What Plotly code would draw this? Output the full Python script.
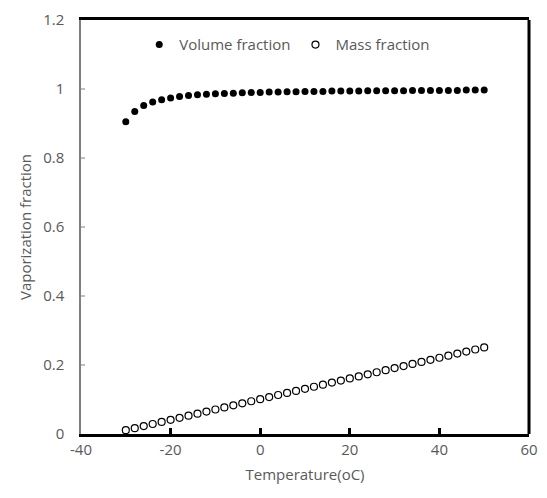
import plotly.graph_objects as go

temperature = [-30, -28, -26, -24, -22, -20, -18, -16, -14, -12, -10, -8, -6, -4, -2,
               0, 2, 4, 6, 8, 10, 12, 14, 16, 18, 20, 22, 24, 26, 28, 30, 32, 34, 36,
               38, 40, 42, 44, 46, 48, 50]
volume_fraction = [0.905, 0.935, 0.952, 0.962, 0.969, 0.974, 0.978, 0.981, 0.983, 0.985,
                   0.986, 0.987, 0.988, 0.989, 0.990, 0.990, 0.991, 0.991, 0.992, 0.992,
                   0.993, 0.993, 0.993, 0.994, 0.994, 0.994, 0.994, 0.995, 0.995, 0.995,
                   0.995, 0.995, 0.996, 0.996, 0.996, 0.996, 0.996, 0.996, 0.997, 0.997,
                   0.997]
mass_fraction = [0.011, 0.017, 0.023, 0.029, 0.035, 0.041, 0.047, 0.053, 0.059, 0.065,
                 0.071, 0.077, 0.083, 0.089, 0.095, 0.101, 0.107, 0.113, 0.119, 0.125,
                 0.131, 0.137, 0.143, 0.149, 0.155, 0.161, 0.167, 0.173, 0.179, 0.185,
                 0.191, 0.197, 0.203, 0.209, 0.215, 0.221, 0.227, 0.233, 0.239, 0.245,
                 0.251]
x_ticks = [-40, -20, 0, 20, 40, 60]
y_ticks = [0, 0.2, 0.4, 0.6, 0.8, 1, 1.2]
y_tick_labels = ["0", "0.2", "0.4", "0.6", "0.8", "1", "1.2"]

font_family = "Open Sans, Liberation Sans, sans-serif"
text_color = "#595959"

fig = go.Figure()
fig.add_trace(go.Scatter(
    x=temperature, y=volume_fraction, mode="markers", name="Volume fraction",
    marker=dict(symbol="circle", size=7, color="black", line=dict(width=0)),
))
fig.add_trace(go.Scatter(
    x=temperature, y=mass_fraction, mode="markers", name="Mass fraction",
    marker=dict(symbol="circle-open", size=7, color="black", line=dict(width=1.2, color="black")),
))

fig.update_layout(
    width=547, height=498,
    margin=dict(l=81, r=9, t=10, b=64),
    plot_bgcolor="white", paper_bgcolor="white",
    font=dict(family=font_family, size=15, color=text_color),
    showlegend=True,
    legend=dict(orientation="h", x=0.13, y=0.94, xanchor="left", yanchor="middle",
                bgcolor="rgba(0,0,0,0)", font=dict(size=15, color=text_color),
                itemwidth=30),
    xaxis=dict(
        range=[-40, 60], tickvals=x_ticks, ticktext=[str(v) for v in x_ticks],
        showgrid=False, zeroline=False,
        showline=True, linecolor="black", linewidth=3, mirror=True,
        ticks="inside", ticklen=6, tickwidth=3, tickcolor="black",
        ticklabeloverflow="allow",
        title=dict(text="Temperature(oC)", standoff=12, font=dict(size=15, color=text_color)),
    ),
    yaxis=dict(
        range=[0, 1.2], tickvals=y_ticks, ticktext=[t + "   " for t in y_tick_labels],
        showgrid=False, zeroline=False,
        showline=True, linecolor="#7f7f7f", linewidth=2,
        ticks="inside", ticklen=4, tickwidth=2, tickcolor="#bfbfbf",
        ticklabeloverflow="allow",
        title=dict(text="Vaporization fraction", standoff=8, font=dict(size=15, color=text_color)),
    ),
)
fig.add_shape(type="line", xref="paper", yref="paper", x0=1, x1=1, y0=0, y1=1,
              line=dict(color="black", width=3), layer="above")

fig.write_html("out.html", config={"displayModeBar": False},
               post_script="document.body.style.margin='0';")
